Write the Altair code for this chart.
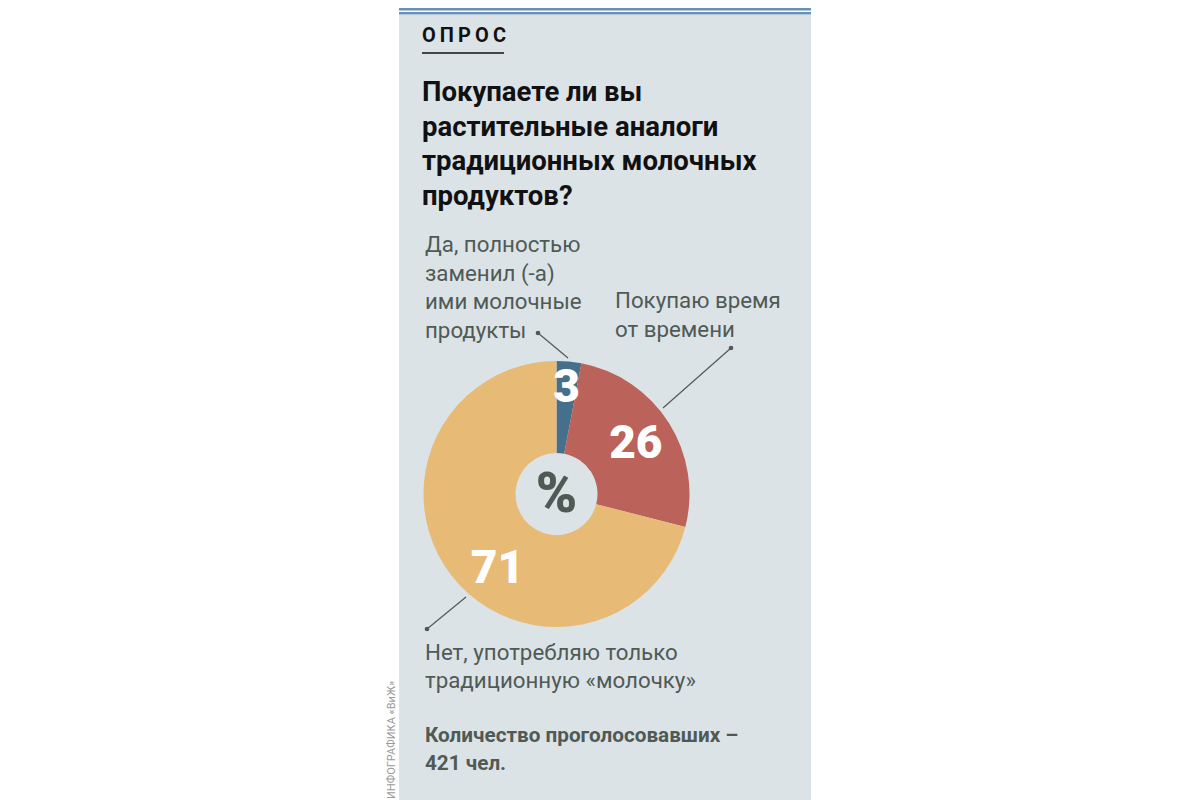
import altair as alt
import pandas as pd

# ---- data ----
categories = [
    "Да, полностью заменил (-а) ими молочные продукты",
    "Покупаю время от времени",
    "Нет, употребляю только традиционную «молочку»",
]
label_lines = [
    ["Да, полностью", "заменил (-а)", "ими молочные", "продукты"],
    ["Покупаю время", "от времени"],
    ["Нет, употребляю только", "традиционную «молочку»"],
]
values = [3, 26, 71]
colors = ["#466f8c", "#bb635b", "#e7bb76"]

kicker = "О\u2009П\u2009Р\u2009О\u2009С"
title_lines = ["Покупаете ли вы", "растительные аналоги", "традиционных молочных", "продуктов?"]
count_lines = ["Количество проголосовавших –", "421 чел."]
credit = "ИНФОГРАФИКА «ВиЖ»"

df = pd.DataFrame({"cat": categories, "value": values, "idx": [0, 1, 2]})

FONT = "Roboto"
GRAY = "#4f5a55"
PANEL = "#dce3e7"
CX, CY = 548.5, 486
R_OUT, R_IN = 133, 41

one = pd.DataFrame({"a": [0]})
base1 = alt.Chart(one)

panel = base1.mark_rect(color=PANEL).encode(
    x=alt.value(391), x2=alt.value(803), y=alt.value(7), y2=alt.value(792))
topline1 = base1.mark_rect(color="#6990b5").encode(
    x=alt.value(391), x2=alt.value(803), y=alt.value(0), y2=alt.value(2.5))
topline2 = base1.mark_rect(color="#6990b5").encode(
    x=alt.value(391), x2=alt.value(803), y=alt.value(4), y2=alt.value(6.5))

kick = base1.mark_text(font=FONT, fontSize=20, fontWeight="bold", color="#111111",
                       align="left", baseline="alphabetic").encode(
    x=alt.value(414), y=alt.value(34), text=alt.value(kicker))
kick_rule = base1.mark_rule(color="#111111", strokeWidth=1.5).encode(
    x=alt.value(414), x2=alt.value(496), y=alt.value(45))

title = base1.mark_text(font=FONT, fontSize=27.5, fontWeight="bold", color="#111111",
                        align="left", baseline="alphabetic", lineHeight=34.5).encode(
    x=alt.value(414), y=alt.value(93), text=alt.value(title_lines))

pie = alt.Chart(df).mark_arc(outerRadius=R_OUT, innerRadius=R_IN).encode(
    theta=alt.Theta("value:Q", stack=True),
    color=alt.Color("cat:N", scale=alt.Scale(domain=categories, range=colors), legend=None),
    order=alt.Order("idx:Q"),
    x=alt.value(CX), y=alt.value(CY),
)

num_layers = []
num_style = [(106, 0, 0), (94, 0, 0), (95, 16, 17)]
for i, (r, dx, dy) in enumerate(num_style):
    num_layers.append(
        alt.Chart(df).mark_text(font=FONT, fontSize=46, fontWeight=900, color="white",
                                align="center", baseline="middle", radius=r, dx=dx, dy=dy)
        .encode(
            theta=alt.Theta("value:Q", stack=True),
            order=alt.Order("idx:Q"),
            text=alt.Text("value:Q"),
            x=alt.value(CX), y=alt.value(CY),
            opacity=alt.condition(alt.datum.idx == i, alt.value(1), alt.value(0)),
        )
    )

pct = base1.mark_text(font=FONT, fontSize=56, fontWeight=900, color=GRAY,
                      align="center", baseline="middle").encode(
    x=alt.value(CX), y=alt.value(CY + 1), text=alt.value("%"))

def label(lines, x, y, size=22, weight="normal", lh=28.5):
    return base1.mark_text(font=FONT, fontSize=size, fontWeight=weight, color=GRAY,
                           align="left", baseline="alphabetic", lineHeight=lh).encode(
        x=alt.value(x), y=alt.value(y), text=alt.value(lines))

lab1 = label(label_lines[0], 417, 244, size=22.3)
lab2 = label(label_lines[1], 607, 300, size=22.3)
lab3 = label(label_lines[2], 417, 652, size=22.3, lh=28)
cnt = label(count_lines, 417, 734, size=20.7, weight="bold", lh=28)

def leader(x1, y1, x2, y2):
    line = base1.mark_rule(color=GRAY, strokeWidth=1.2).encode(
        x=alt.value(x1), y=alt.value(y1), x2=alt.value(x2), y2=alt.value(y2))
    dot = base1.mark_circle(color=GRAY, opacity=1, size=22).encode(
        x=alt.value(x1), y=alt.value(y1))
    return line + dot

lead1 = leader(530, 325, 560, 350)
lead2 = leader(723, 340, 655, 400)
lead3 = leader(419, 621, 458, 589)

cred = base1.mark_text(font=FONT, fontSize=11, color="#9a9a9a", angle=270,
                       align="left", baseline="middle").encode(
    x=alt.value(384), y=alt.value(791), text=alt.value(credit))

chart = alt.layer(
    panel, topline1, topline2, kick, kick_rule, title,
    pie, *num_layers, pct, lab1, lab2, lab3, cnt, lead1, lead2, lead3, cred,
).properties(
    width=1184, height=792, autosize=alt.AutoSizeParams(type="none"), padding=0,
    background="white",
).configure_view(stroke=None)

chart.save("out.html", embed_options={"renderer": "svg", "actions": False})
